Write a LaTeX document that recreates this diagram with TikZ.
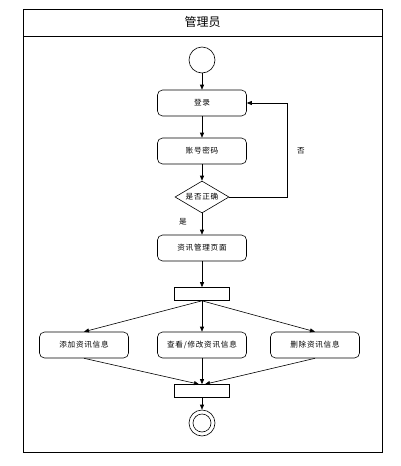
\documentclass[tikz,border=0pt]{standalone}
\usepackage{fontspec}
\setmainfont{Noto Sans CJK SC}
\newfontfamily\boxfont[LetterSpace=10]{Noto Sans CJK SC}
\usetikzlibrary{shapes.geometric,arrows.meta}

\begin{document}
\begin{tikzpicture}[x=1pt,y=-1pt,
  act/.style={draw,rounded corners=5pt,minimum width=89pt,minimum height=26pt,font=\boxfont\fontsize{7.6}{8}\selectfont,inner sep=1pt},
  bar/.style={draw,minimum width=55pt,minimum height=13pt,inner sep=0pt},
  cond/.style={draw,diamond,aspect=1.7,minimum width=54pt,minimum height=32pt,inner sep=0pt,font=\boxfont\fontsize{7.6}{8}\selectfont},
  lab/.style={font=\fontsize{7.6}{8}\selectfont},
  flow/.style={-{Triangle[length=5pt,width=4pt]}},
  line width=0.6pt]
\useasboundingbox (0,0) rectangle (401,466);
\draw[line width=0.8pt] (23,9) rectangle (382,452);
\draw[line width=0.8pt] (23,36) -- (382,36);
\node (title) at (202.5,22) {\fontsize{12}{13}\selectfont 管理员};
\node[draw,circle,minimum size=26pt,inner sep=0pt] (start) at (202,60) {};
\node[act] (login) at (202,103) {登录};
\node[act] (pwd) at (202,151) {账号密码};
\node[cond] (check) at (202,197) {是否正确};
\node[act] (page) at (202,248) {资讯管理页面};
\node[bar] (fork) at (202,294) {};
\node[act] (add) at (84,345) {添加资讯信息};
\node[act] (edit) at (202,345) {查看/修改资讯信息};
\node[act] (del) at (315,345) {删除资讯信息};
\node[bar] (join) at (202,391) {};
\node[draw,circle,minimum size=26pt,inner sep=0pt] (stop) at (202,423) {};
\node[draw,circle,minimum size=18pt,inner sep=0pt] at (stop) {};
\node[lab] (yes) at (183,222) {是};
\node[lab] (no) at (301,151) {否};
\coordinate (c1) at (287,197);
\coordinate (c2) at (287,103);
\draw[flow] (start) -- (login);
\draw[flow] (login) -- (pwd);
\draw[flow] (pwd) -- (check);
\draw[flow] (check) -- (page);
\draw[flow] (check.east) -- (c1) -- (c2) -- (login.east);
\draw[flow] (page) -- (fork);
\draw[flow] (fork.south) -- (add.north);
\draw[flow] (fork.south) -- (edit.north);
\draw[flow] (fork.south) -- (del.north);
\draw[flow] (add.south) -- ([xshift=-3pt]join.north);
\draw[flow] (edit.south) -- (join.north);
\draw[flow] (del.south) -- ([xshift=3pt]join.north);
\draw[flow] (join) -- (stop);
\end{tikzpicture}
\end{document}
